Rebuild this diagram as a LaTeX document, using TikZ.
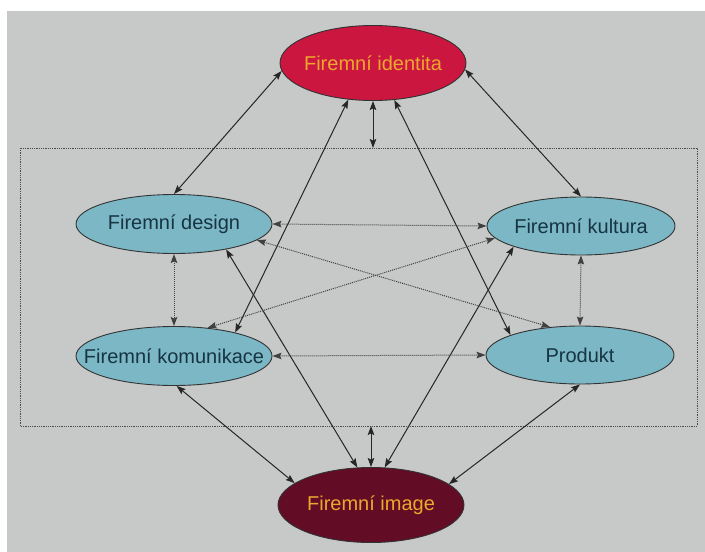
\documentclass[tikz,border=0pt]{standalone}
\usepackage{fontspec}
\setmainfont{Liberation Sans}
\usetikzlibrary{shapes.geometric,arrows.meta}
\definecolor{pozadi}{RGB}{199,200,200}
\definecolor{modra}{RGB}{124,183,198}
\definecolor{modratext}{RGB}{22,52,66}
\definecolor{cervena}{RGB}{203,22,64}
\definecolor{bordo}{RGB}{98,12,38}
\definecolor{oranzova}{RGB}{236,168,45}
\begin{document}
\begin{tikzpicture}[>={Stealth[length=9pt,width=6.5pt,inset=1.5pt]},x=1pt,y=-1pt,
		elipsa/.style={ellipse,draw=black!80,line width=0.9pt,inner sep=0pt,inner xsep=-25pt,font=\fontsize{20}{24}\selectfont},
		modry/.style={elipsa,fill=modra,text=modratext,minimum width=196pt,minimum height=59pt},
		hlavni/.style={elipsa,text=oranzova,minimum width=186pt,minimum height=75pt},
		vazba/.style={<->,line width=1pt,black!85},
		tecky/.style={<->,densely dotted,line width=1pt,black!75}]
		\useasboundingbox (0,0) rectangle (705,552);
		\fill[white] (0,0) rectangle (705,552);
		\fill[pozadi] (7,11) rectangle (705,552);
		% dotted frame
		\draw[densely dotted,line width=0.8pt,black!70] (20,148) rectangle (697,426);
		\coordinate (horni) at (373,148);
		\coordinate (dolni) at (371,426);
		% nodes
		\node[hlavni,fill=cervena] (identita) at (373,63) {Firemní identita};
		\node[hlavni,fill=bordo] (image) at (371,505) {Firemní image};
		\node[modry] (design) at (174,224) {Firemní design};
		\node[modry,minimum width=188pt,minimum height=58pt] (kultura) at (581,226) {Firemní kultura};
		\node[modry] (komunikace) at (174,356) {Firemní komunikace};
		\node[modry,minimum width=188pt,minimum height=58pt] (produkt) at (580,355) {Produkt};
		% solid links
		\draw[vazba] (identita.185) -- (design.north);
		\draw[vazba] (identita.356) -- (kultura.north);
		\draw[vazba] (identita.south) -- (horni);
		\draw[vazba] (identita.236) -- (komunikace.21);
		\draw[vazba] (identita.300) -- (produkt.164);
		\draw[vazba] (design.334) -- (image.110);
		\draw[vazba] (kultura.197) -- (image.70);
		\draw[vazba] (komunikace.275) -- (image.164);
		\draw[vazba] (produkt.south) -- (image.15);
		\draw[vazba] (image.north) -- (dolni);
		% dotted links
		\draw[tecky] (design.east) -- (kultura.west);
		\draw[tecky] (komunikace.east) -- (produkt.west);
		\draw[tecky] (design.south) -- (komunikace.north);
		\draw[tecky] (kultura.south) -- (produkt.north);
		\draw[tecky] (design.349) -- (produkt.137);
		\draw[tecky] (komunikace.40) -- (kultura.188);
\end{tikzpicture}
\end{document}
